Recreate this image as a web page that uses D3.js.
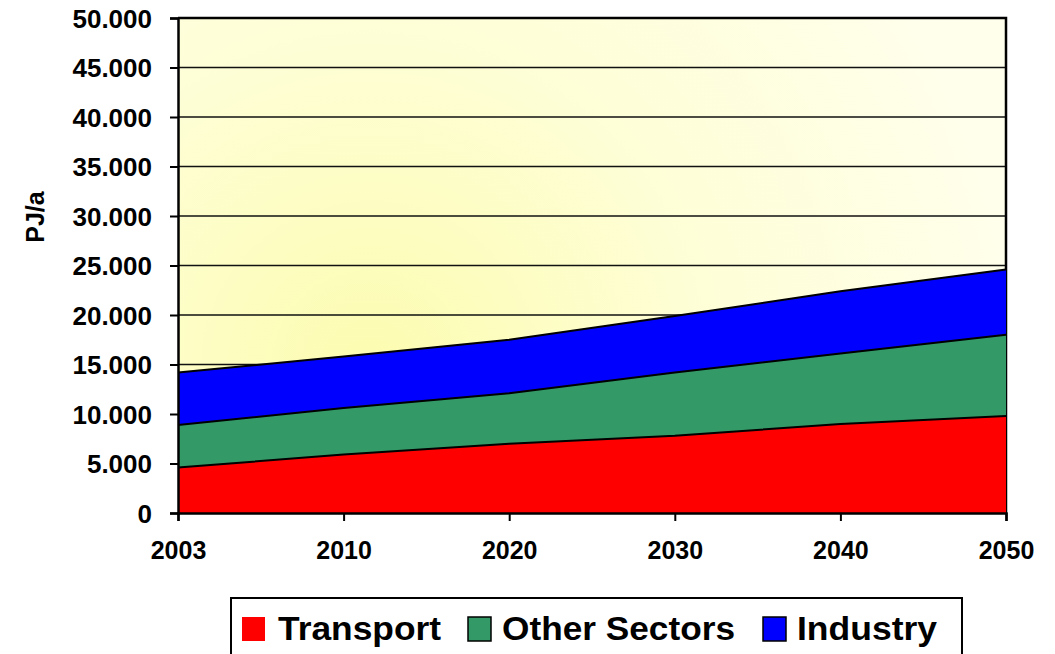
<!DOCTYPE html>
<html>
<head>
<meta charset="utf-8">
<script src="https://cdn.jsdelivr.net/npm/d3@7"></script>
<style>
  html, body { margin: 0; padding: 0; background: #fff; }
  svg { display: block; }
  text { font-family: "Liberation Sans", Arial, sans-serif; font-weight: bold; fill: #000; }
</style>
</head>
<body>
<svg id="chart" width="1055" height="654"></svg>
<script>
// Final energy demand by sector, PJ/a
const years = ["2003", "2010", "2020", "2030", "2040", "2050"];
const transport = [4600, 5900, 7000, 7800, 9000, 9800];
const otherSectors = [4300, 4700, 5100, 6400, 7100, 8200];
const industry = [5300, 5200, 5400, 5700, 6300, 6600];
const yTicks = [0, 5000, 10000, 15000, 20000, 25000, 30000, 35000, 40000, 45000, 50000];
const seriesNames = ["Transport", "Other Sectors", "Industry"];
const seriesColors = ["#ff0000", "#339966", "#0000ff"];

const svg = d3.select("#chart");
const plotL = 178, plotR = 1006, plotT = 18, plotB = 513;

const x = d3.scalePoint().domain(years).range([plotL, plotR]);
const y = d3.scaleLinear().domain([0, 50000]).range([plotB, plotT]);

// plot background: soft yellow radial wash
const defs = svg.append("defs");
const grad = defs.append("radialGradient")
  .attr("id", "bg").attr("gradientUnits", "userSpaceOnUse")
  .attr("cx", 370).attr("cy", 370).attr("r", 660);
grad.append("stop").attr("offset", 0).attr("stop-color", "#fcfcb0");
grad.append("stop").attr("offset", 0.5).attr("stop-color", "#fefed6");
grad.append("stop").attr("offset", 1).attr("stop-color", "#ffffec");

svg.append("rect")
  .attr("x", plotL).attr("y", plotT)
  .attr("width", plotR - plotL).attr("height", plotB - plotT)
  .attr("fill", "url(#bg)");

// horizontal gridlines
svg.append("g").selectAll("line")
  .data(yTicks.filter(d => d > 0))
  .join("line")
  .attr("x1", plotL).attr("x2", plotR)
  .attr("y1", d => y(d)).attr("y2", d => y(d))
  .attr("stroke", "#111").attr("stroke-width", 1.5);

// plot frame (top and right)
svg.append("path")
  .attr("d", `M${plotL},${plotT}H${plotR}V${plotB}`)
  .attr("fill", "none").attr("stroke", "#000").attr("stroke-width", 2.5);

// stacked areas
const rows = years.map((yr, i) => ({
  year: yr,
  Transport: transport[i],
  "Other Sectors": otherSectors[i],
  Industry: industry[i]
}));
const stacked = d3.stack().keys(seriesNames)(rows);

const area = d3.area()
  .x(d => x(d.data.year))
  .y0(d => y(d[0]))
  .y1(d => y(d[1]));
const topLine = d3.line()
  .x(d => x(d.data.year))
  .y(d => y(d[1]));

const layers = svg.append("g");
stacked.forEach((s, i) => {
  layers.append("path")
    .attr("d", area(s))
    .attr("fill", seriesColors[i]);
});
stacked.forEach(s => {
  layers.append("path")
    .attr("d", topLine(s))
    .attr("fill", "none")
    .attr("stroke", "#000").attr("stroke-width", 2);
});

// y axis
const yAxis = svg.append("g").attr("transform", `translate(${plotL},0)`)
  .call(d3.axisLeft(y).tickValues(yTicks).tickSize(8).tickPadding(18)
    .tickFormat(d => d3.format(",")(d).replace(/,/g, ".")));
yAxis.select(".domain").attr("stroke", "#000").attr("stroke-width", 2.5);
yAxis.selectAll(".tick line").attr("stroke", "#000").attr("stroke-width", 2);
yAxis.selectAll(".tick text")
  .style("font-size", "26px").style("font-family", "'Liberation Sans', Arial, sans-serif")
  .style("font-weight", "bold").attr("fill", "#000").attr("dy", "0.36em");

// x axis
const xAxis = svg.append("g").attr("transform", `translate(0,${plotB})`)
  .call(d3.axisBottom(x).tickSize(8).tickPadding(20));
xAxis.select(".domain").attr("stroke", "#000").attr("stroke-width", 2.5);
xAxis.selectAll(".tick line").attr("stroke", "#000").attr("stroke-width", 2);
xAxis.selectAll(".tick text")
  .style("font-size", "25px").style("font-family", "'Liberation Sans', Arial, sans-serif")
  .style("font-weight", "bold").attr("fill", "#000");

// y axis title
svg.append("text")
  .attr("transform", "translate(44,217) rotate(-90)")
  .attr("text-anchor", "middle")
  .style("font-size", "25px")
  .text("PJ/a");

// legend
const legend = svg.append("g");
legend.append("rect")
  .attr("x", 231).attr("y", 598).attr("width", 731).attr("height", 70)
  .attr("fill", "#fff").attr("stroke", "#000").attr("stroke-width", 2);

const legendItems = [
  { name: seriesNames[0], color: seriesColors[0], sx: 242, tx: 278, tw: 163 },
  { name: seriesNames[1], color: seriesColors[1], sx: 468, tx: 502, tw: 233 },
  { name: seriesNames[2], color: seriesColors[2], sx: 763, tx: 797, tw: 140 }
];
legendItems.forEach(it => {
  legend.append("rect")
    .attr("x", it.sx).attr("y", 617).attr("width", 23).attr("height", 24)
    .attr("fill", it.color).attr("stroke", it.name === "Transport" ? "none" : "#000")
    .attr("stroke-width", 1.5);
  legend.append("text")
    .attr("x", it.tx).attr("y", 640)
    .style("font-size", "33px")
    .attr("textLength", it.tw).attr("lengthAdjust", "spacingAndGlyphs")
    .text(it.name);
});
</script>
</body>
</html>
